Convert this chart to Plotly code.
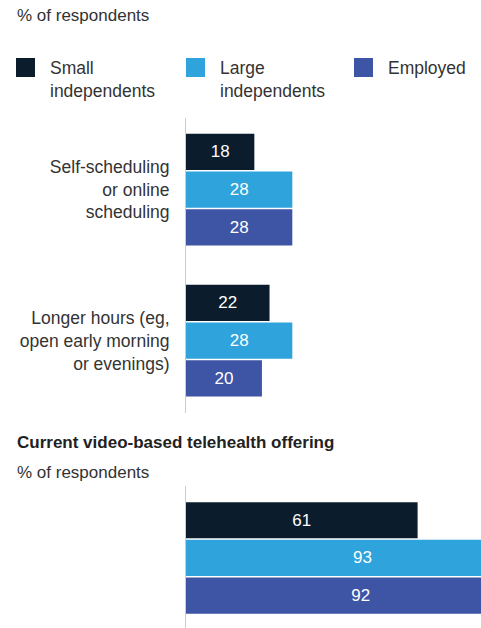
import plotly.graph_objects as go
from plotly.subplots import make_subplots

W, H = 481, 628

groups = ["Small<br>independents", "Large<br>independents", "Employed"]
colors = ["#0b1c2c", "#2ea3dc", "#3e54a5"]

features = ["Self-scheduling<br>or online<br>scheduling",
            "Longer hours (eg,<br>open early morning<br>or evenings)"]
feature_vals = [[18, 22], [28, 28], [28, 20]]

tele_cat = [""]
tele_vals = [[61], [93], [92]]

FONT = "Liberation Sans, Arial, sans-serif"

fig = make_subplots(rows=2, cols=1)

for i in range(3):
    fig.add_trace(go.Bar(
        y=features, x=feature_vals[i], orientation="h",
        marker=dict(color=colors[i], line=dict(width=0)),
        text=feature_vals[i], textposition="inside", insidetextanchor="middle",
        textfont=dict(color="white", size=17, family=FONT),
        showlegend=False, hoverinfo="skip"), row=1, col=1)
    fig.add_trace(go.Bar(
        y=tele_cat, x=tele_vals[i], orientation="h",
        marker=dict(color=colors[i], line=dict(width=0)),
        text=tele_vals[i], textposition="inside", insidetextanchor="middle",
        textfont=dict(color="white", size=17, family=FONT),
        showlegend=False, hoverinfo="skip"), row=2, col=1)

x0 = 186 / W
fig.update_xaxes(domain=[x0, 1], range=[0, 77.7], visible=False, fixedrange=True)
fig.update_layout(
    yaxis=dict(domain=[1 - 413 / H, 1 - 118 / H], range=[1.479, -0.474],
               showline=True, linecolor="#cccccc", linewidth=1, ticks="",
               showgrid=False, zeroline=False, ticklabelstandoff=12,
               tickfont=dict(size=17.5, color="#333333", family=FONT)),
    yaxis2=dict(domain=[0, 1 - 486 / H], range=[0.464, -0.477],
                showline=True, linecolor="#cccccc", linewidth=1, ticks="",
                showgrid=False, zeroline=False, showticklabels=False),
)

ann = []
shapes = []


def px_x(v):
    return v / W


def px_y(v):
    return 1 - v / H


def note(x, y, text, size, color, **kw):
    ann.append(dict(xref="paper", yref="paper", x=px_x(x), y=px_y(y), text=text,
                    showarrow=False, xanchor="left",
                    font=dict(size=size, color=color, family=FONT), **kw))


note(15, 15, "% of respondents", 17, "#333333", yanchor="middle")
note(15, 442, "<b>Current video-based telehealth offering</b>", 17, "#222222", yanchor="middle")
note(15, 472, "% of respondents", 17, "#333333", yanchor="middle")

leg_x = [16, 186, 354]
for i, name in enumerate(groups):
    sx = leg_x[i]
    shapes.append(dict(type="rect", xref="paper", yref="paper",
                       x0=px_x(sx), x1=px_x(sx + 19), y0=px_y(77), y1=px_y(58),
                       fillcolor=colors[i], line=dict(width=0)))
    note(sx + 32, 56, name, 17.5, "#333333", yanchor="top", align="left")

fig.update_layout(
    width=W, height=H,
    margin=dict(l=0, r=0, t=0, b=0),
    paper_bgcolor="white", plot_bgcolor="white",
    barmode="group", bargap=0.25, bargroupgap=0.04,
    annotations=ann, shapes=shapes,
    font=dict(family=FONT),
)

fig.write_html("out.html", config={"displayModeBar": False},
               post_script="document.body.style.margin='0';")
